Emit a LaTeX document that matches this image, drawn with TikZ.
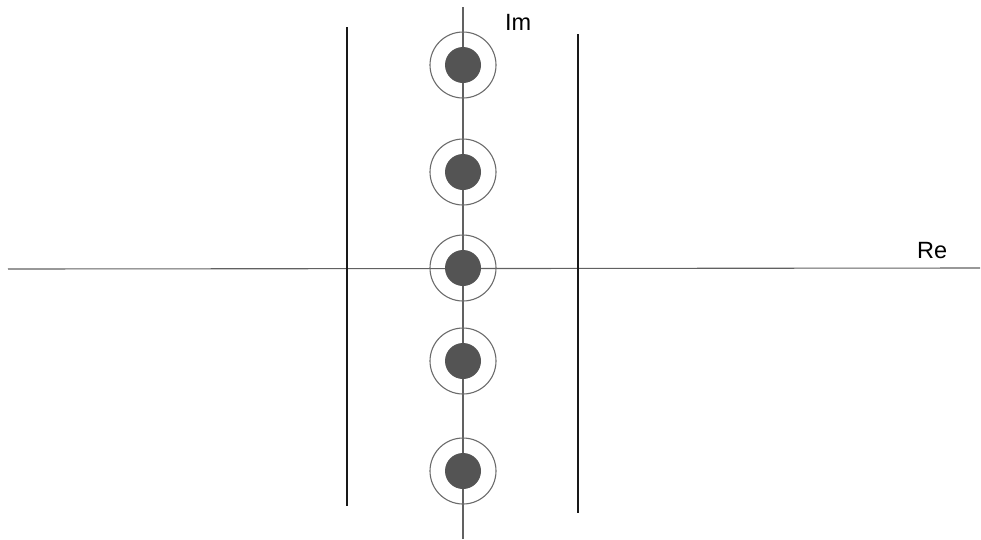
\documentclass[tikz,border=0pt]{standalone}
\usepackage{fontspec}
\setmainfont{Liberation Sans}
\begin{document}
\begin{tikzpicture}[x=1pt,y=-1pt,
  axis/.style={draw=black!62,line width=1.1pt},
  strip/.style={draw=black!90,line width=2.4pt},
  ring/.style={circle,draw=black!58,line width=1.1pt,minimum size=66pt,inner sep=0pt},
  pole/.style={circle,fill=black!67,minimum size=36pt,inner sep=0pt},
  lbl/.style={font=\fontsize{23.5}{27}\selectfont,inner sep=0pt}]
\useasboundingbox (0,0) rectangle (981,539);
% axes
\coordinate (reL) at (8,269);
\coordinate (reR) at (980,268);
\coordinate (imB) at (463,539);
\coordinate (imT) at (463,7);
\draw[axis] (reL) -- (reR);
\draw[axis] (imB) -- (imT);
% strip boundaries
\coordinate (s1t) at (347,27);
\coordinate (s1b) at (347,506);
\coordinate (s2t) at (578,34);
\coordinate (s2b) at (578,513);
\draw[strip] (s1t) -- (s1b);
\draw[strip] (s2t) -- (s2b);
% poles on the imaginary axis
\foreach \i/\y in {1/65,2/172,3/268,4/361,5/471}{
  \node[ring] (r\i) at (463,\y) {};
  \node[pole] (p\i) at (463,\y) {};
}
% labels
\node[lbl,anchor=west] (im) at (505,22) {Im};
\node[lbl,anchor=west] (re) at (917,251) {Re};
\end{tikzpicture}
\end{document}
